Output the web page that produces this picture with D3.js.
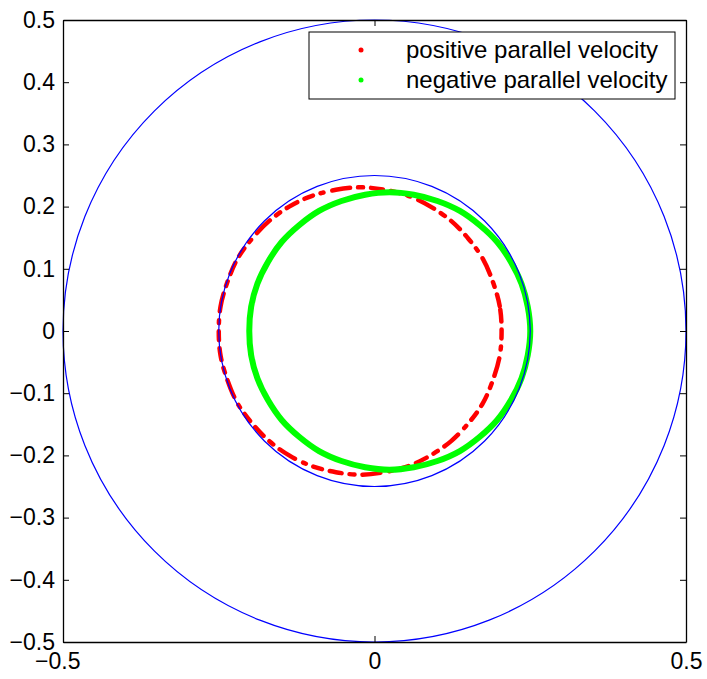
<!DOCTYPE html>
<html>
<head>
<meta charset="utf-8">
<script src="https://d3js.org/d3.v7.min.js"></script>
<style>
body { margin: 0; background: #fff; }
text { font-family: "Liberation Sans", Arial, Helvetica, sans-serif; fill: #000; }
</style>
</head>
<body>
<svg></svg>
<script>

// axis ticks
var xTicks = [-0.5, 0, 0.5];
var yTicks = [-0.5, -0.4, -0.3, -0.2, -0.1, 0, 0.1, 0.2, 0.3, 0.4, 0.5];

// reference circles (radius, centred on origin)
var circleRadii = [0.5, 0.25];

// orbit of particles with positive parallel velocity (x, y), read every 10 deg
var redOrbit = [
	[0.204, 0.000], [0.201, 0.040], [0.190, 0.079], [0.174, 0.116], [0.151, 0.148], [0.123, 0.177],
	[0.090, 0.200], [0.055, 0.217], [0.016, 0.227], [-0.023, 0.231], [-0.062, 0.227], [-0.101, 0.217],
	[-0.137, 0.200], [-0.169, 0.177], [-0.197, 0.148], [-0.220, 0.116], [-0.236, 0.079], [-0.247, 0.040],
	[-0.250, 0.000], [-0.247, -0.040], [-0.236, -0.079], [-0.220, -0.116], [-0.197, -0.148], [-0.169, -0.177],
	[-0.137, -0.200], [-0.101, -0.217], [-0.062, -0.227], [-0.023, -0.231], [0.016, -0.227], [0.055, -0.217],
	[0.090, -0.200], [0.123, -0.177], [0.151, -0.148], [0.174, -0.116], [0.190, -0.079], [0.201, -0.040]
];

// orbit of particles with negative parallel velocity
var greenOrbit = [
	[0.250, 0.000], [0.246, 0.039], [0.236, 0.076], [0.219, 0.111], [0.197, 0.143], [0.169, 0.170],
	[0.137, 0.193], [0.101, 0.209], [0.063, 0.219], [0.024, 0.223], [-0.015, 0.219], [-0.053, 0.209],
	[-0.089, 0.193], [-0.121, 0.170], [-0.149, 0.143], [-0.171, 0.111], [-0.188, 0.076], [-0.198, 0.039],
	[-0.201, 0.000], [-0.198, -0.039], [-0.188, -0.076], [-0.171, -0.111], [-0.149, -0.143], [-0.121, -0.170],
	[-0.089, -0.193], [-0.053, -0.209], [-0.015, -0.219], [0.024, -0.223], [0.063, -0.219], [0.101, -0.209],
	[0.137, -0.193], [0.169, -0.170], [0.197, -0.143], [0.219, -0.111], [0.236, -0.076], [0.246, -0.039]
];

var legendItems = [
	{label: "positive parallel velocity", color: "#ff0000"},
	{label: "negative parallel velocity", color: "#00ff00"}
];

//prepare SVG element
var width = 707, height = 679,
	margin = {left: 63, top: 20, right: 21, bottom: 37},
	svg = d3.select("svg").attr("width", width).attr("height", height);

var x = d3.scaleLinear().domain([-0.5, 0.5]).range([margin.left, width - margin.right]),
	y = d3.scaleLinear().domain([-0.5, 0.5]).range([height - margin.bottom, margin.top]);

var fmt = function(d) { return d === 0 ? "0" : d3.format(".1f")(d); };

var line = d3.line().x(function(d) { return x(d[0]); }).y(function(d) { return y(d[1]); })
	.curve(d3.curveCardinalClosed);

//orbits
svg.append("path").datum(redOrbit)
	.attr("d", line).attr("fill", "none").attr("stroke", "#ff0000")
	.attr("stroke-width", 4.5).attr("stroke-linecap", "round")
	.attr("stroke-dasharray", "12 8 5 8 18 9 3 8 9 8");
svg.append("path").datum(greenOrbit)
	.attr("d", line).attr("fill", "none").attr("stroke", "#00ff00")
	.attr("stroke-width", 6);

//blue circles
svg.append("g").selectAll("ellipse").data(circleRadii)
	.enter().append("ellipse")
	.attr("cx", x(0)).attr("cy", y(0))
	.attr("rx", function(r) { return x(r) - x(0); })
	.attr("ry", function(r) { return y(0) - y(r); })
	.attr("fill", "none").attr("stroke", "#0000ff").attr("stroke-width", 1.2);

//axes (box with inward ticks)
function styleAxis(g) {
	g.selectAll("path.domain").attr("stroke", "#000").attr("stroke-width", 1.3);
	g.selectAll(".tick line").attr("stroke", "#000").attr("stroke-width", 1);
	g.selectAll(".tick text").style("font-size", "23px").attr("fill", "#000");
	g.attr("font-family", null).attr("font-size", null);
}
svg.append("g").attr("transform", "translate(0," + y(-0.5) + ")")
	.call(d3.axisBottom(x).tickValues(xTicks).tickSize(-6).tickSizeOuter(0).tickPadding(11).tickFormat(fmt))
	.call(styleAxis)
	.selectAll(".tick text").attr("dx", function(d) { return d < 0 ? "-0.25em" : 0; });
svg.append("g").attr("transform", "translate(" + x(-0.5) + ",0)")
	.call(d3.axisLeft(y).tickValues(yTicks).tickSize(-6).tickSizeOuter(0).tickPadding(8).tickFormat(fmt))
	.call(styleAxis);
svg.append("g").attr("transform", "translate(0," + y(0.5) + ")")
	.call(d3.axisTop(x).tickValues(xTicks).tickSize(-6).tickSizeOuter(0).tickFormat(""))
	.call(styleAxis);
svg.append("g").attr("transform", "translate(" + x(0.5) + ",0)")
	.call(d3.axisRight(y).tickValues(yTicks).tickSize(-6).tickSizeOuter(0).tickFormat(""))
	.call(styleAxis);

//legend
var lg = svg.append("g").attr("transform", "translate(309,32)");
lg.append("rect").attr("width", 366).attr("height", 67)
	.attr("fill", "#fff").attr("stroke", "#000").attr("stroke-width", 1);
var rows = lg.selectAll("g.row").data(legendItems).enter().append("g")
	.attr("transform", function(d, i) { return "translate(0," + (18 + i * 30) + ")"; });
rows.append("circle").attr("cx", 52).attr("cy", 0).attr("r", 2.5)
	.attr("fill", function(d) { return d.color; });
rows.append("text").attr("x", 97).attr("dy", "0.35em")
	.style("font-size", "24px").text(function(d) { return d.label; });

</script>
</body>
</html>
